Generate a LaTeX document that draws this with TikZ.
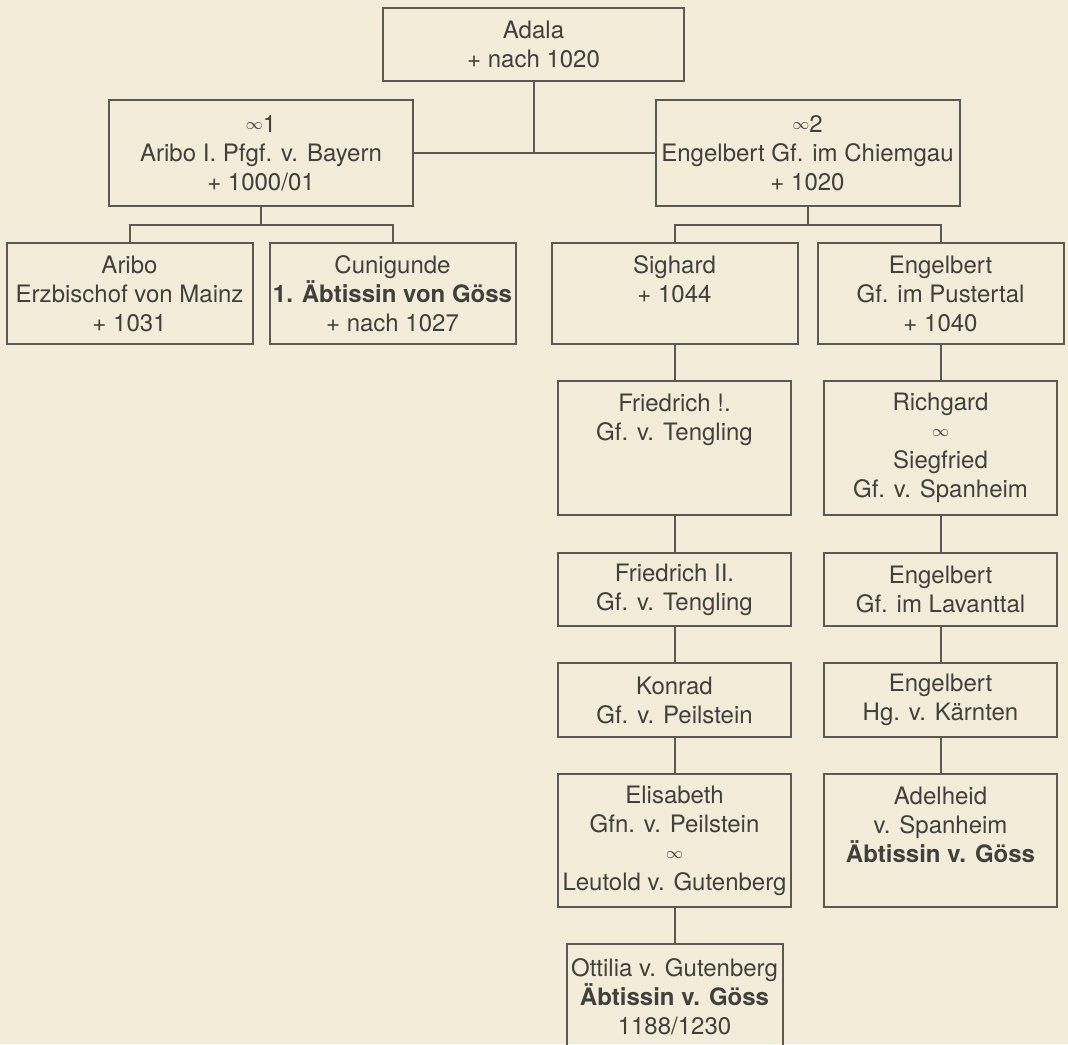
\documentclass[tikz,border=0pt]{standalone}
\usepackage{fontspec}
\setmainfont{TeX Gyre Heros}
\usepackage{xcolor}
\usetikzlibrary{positioning}
\definecolor{paper}{RGB}{243,236,216}
\definecolor{ink}{RGB}{92,88,84}
\definecolor{type}{RGB}{66,64,60}
\newcommand{\marr}{\raisebox{1.5pt}{\fontsize{8}{9}\selectfont$\infty$}}

\begin{document}
\begin{tikzpicture}[
        node distance=18.5pt,
        line width=1pt, ink,
        every node/.style={draw=ink, text=type, align=center, inner xsep=0pt, inner ysep=3pt,
            outer sep=0pt, font=\fontsize{12}{14.5}\selectfont},
        parent/.style={minimum width=152pt, minimum height=53pt},
        child/.style={minimum width=123pt, minimum height=50.5pt},
        column/.style={minimum width=116.5pt},
        h2/.style={minimum height=36.5pt},
        h4/.style={minimum height=67pt}
    ]
    \path[use as bounding box, fill=paper] (0,0) rectangle (534pt,-522pt);

    % Nodes
    \node[minimum width=150.5pt, minimum height=36.5pt, anchor=north] (adala) at (266.75pt,-4pt) {Adala\\+ nach 1020};
    \node[parent, below=9.5pt of adala, xshift=-136.25pt] (aribo1) {\marr1\\Aribo I. Pfgf. v. Bayern\\+ 1000/01};
    \node[parent, below=9.5pt of adala, xshift=137pt] (engelC) {\marr2\\Engelbert Gf. im Chiemgau\\+ 1020};

    \node[child, below=of aribo1, xshift=-65.75pt] (aribo) {Aribo\\Erzbischof von Mainz\\+ 1031};
    \node[child, below=of aribo1, xshift=65.75pt] (cunig) {Cunigunde\\\textbf{1. Äbtissin von Göss}\\+ nach 1027};
    \node[child, below=of engelC, xshift=-66.5pt, text depth=14.7pt] (sighard) {Sighard\\+ 1044};
    \node[child, below=of engelC, xshift=66.5pt] (engelP) {Engelbert\\Gf. im Pustertal\\+ 1040};

    \node[column, h4, below=of sighard, text depth=31.2pt] (fried1) {Friedrich !.\\Gf. v. Tengling};
    \node[column, h2, below=19pt of fried1] (fried2) {Friedrich II.\\Gf. v. Tengling};
    \node[column, minimum height=37pt, below=of fried2] (konrad) {Konrad\\Gf. v. Peilstein};
    \node[column, minimum height=66.5pt, below=of konrad] (elisabeth) {Elisabeth\\Gfn. v. Peilstein\\\marr\\Leutold v. Gutenberg};
    \node[minimum width=108pt, minimum height=52.5pt, below=of elisabeth] (ottilia) {Ottilia v. Gutenberg\\\textbf{Äbtissin v. Göss}\\1188/1230};

    \node[column, h4, below=of engelP] (richgard) {Richgard\\\marr\\Siegfried\\Gf. v. Spanheim};
    \node[column, h2, below=19pt of richgard] (engelL) {Engelbert\\Gf. im Lavanttal};
    \node[column, minimum height=37pt, below=of engelL] (engelK) {Engelbert\\Hg. v. Kärnten};
    \node[column, minimum height=66.5pt, below=of engelK, text depth=16.2pt] (adelheid) {Adelheid\\v. Spanheim\\\textbf{Äbtissin v. Göss}};

    % Edges
    \draw (adala) -- (adala |- aribo1.east);
    \draw (aribo1) -- (engelC);
    \draw (aribo1.south) -- ++(0,-9.25pt) -| (aribo.north);
    \draw (aribo1.south) -- ++(0,-9.25pt) -| (cunig.north);
    \draw (engelC.south) -- ++(0,-9.25pt) -| (sighard.north);
    \draw (engelC.south) -- ++(0,-9.25pt) -| (engelP.north);
    \draw (sighard) -- (fried1);
    \draw (fried1) -- (fried2);
    \draw (fried2) -- (konrad);
    \draw (konrad) -- (elisabeth);
    \draw (elisabeth) -- (ottilia);
    \draw (engelP) -- (richgard);
    \draw (richgard) -- (engelL);
    \draw (engelL) -- (engelK);
    \draw (engelK) -- (adelheid);

\end{tikzpicture}
\end{document}
